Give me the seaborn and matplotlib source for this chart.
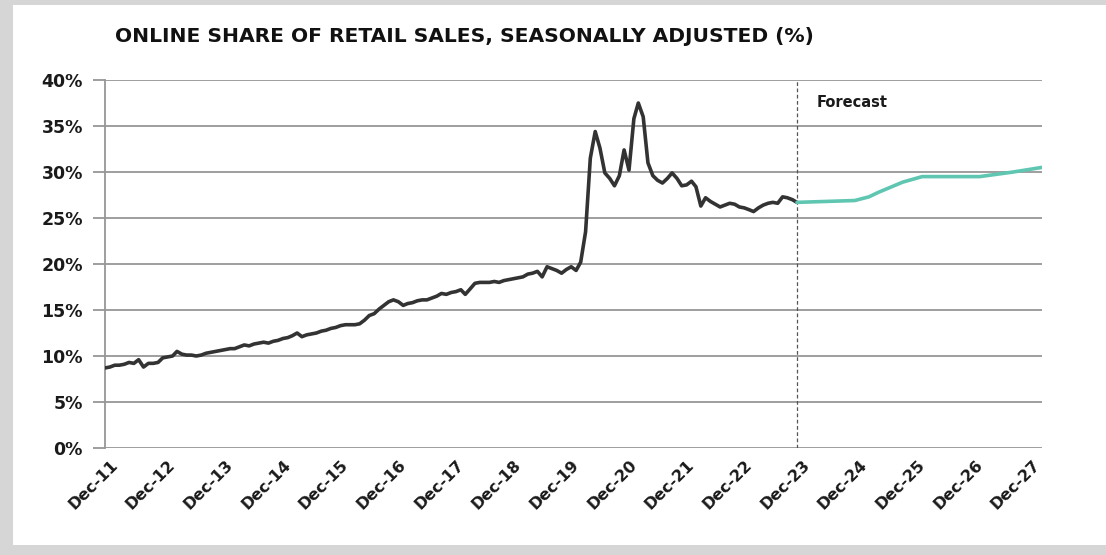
import matplotlib

matplotlib.use("Agg")
import matplotlib.dates as mdates
import matplotlib.pyplot as plt
import matplotlib.transforms as mtransforms
import pandas as pd
import seaborn as sns
from matplotlib.patches import Rectangle

# monthly online share (%), Dec-11 .. Dec-23
HIST_START = "2011-12-01"
HIST_VALUES = [
    8.7, 8.8, 9.0, 9.0, 9.1, 9.3, 9.2, 9.6, 8.8, 9.2, 9.2, 9.3,
    9.8, 9.9, 10.0, 10.5, 10.2, 10.1, 10.1, 10.0, 10.1, 10.3, 10.4, 10.5,
    10.6, 10.7, 10.8, 10.8, 11.0, 11.2, 11.1, 11.3, 11.4, 11.5, 11.4, 11.6,
    11.7, 11.9, 12.0, 12.2, 12.5, 12.1, 12.3, 12.4, 12.5, 12.7, 12.8, 13.0,
    13.1, 13.3, 13.4, 13.4, 13.4, 13.5, 13.9, 14.4, 14.6, 15.1, 15.5, 15.9,
    16.1, 15.9, 15.5, 15.7, 15.8, 16.0, 16.1, 16.1, 16.3, 16.5, 16.8, 16.7,
    16.9, 17.0, 17.2, 16.7, 17.3, 17.9, 18.0, 18.0, 18.0, 18.1, 18.0, 18.2,
    18.3, 18.4, 18.5, 18.6, 18.9, 19.0, 19.2, 18.6, 19.7, 19.5, 19.3, 19.0,
    19.4, 19.7, 19.3, 20.2, 23.5, 31.5, 34.4, 32.6, 29.9, 29.3, 28.5, 29.6,
    32.4, 30.2, 35.8, 37.5, 36.0, 31.0, 29.6, 29.1, 28.8, 29.3, 29.9, 29.3,
    28.5, 28.6, 29.0, 28.4, 26.3, 27.2, 26.8, 26.5, 26.2, 26.4, 26.6, 26.5,
    26.2, 26.1, 25.9, 25.7, 26.1, 26.4, 26.6, 26.7, 26.6, 27.3, 27.2, 27.0,
    26.7,
]

# forecast path
FC_DATES = ["2023-12-01", "2024-06-01", "2024-12-01", "2025-03-01", "2025-05-01",
            "2025-10-01", "2026-02-01", "2027-02-01", "2027-09-01", "2028-03-01"]
FC_VALUES = [26.7, 26.8, 26.9, 27.3, 27.8, 28.9, 29.5, 29.5, 30.0, 30.5]

Y_TICKS = [0, 5, 10, 15, 20, 25, 30, 35, 40]
X_TICK_YEARS = list(range(2011, 2028))

TITLE = "ONLINE SHARE OF RETAIL SALES, SEASONALLY ADJUSTED (%)"
HIST_COLOR = "#333333"
FC_COLOR = "#5fc6b1"
GRID_COLOR = "#969696"

sns.set_theme(style="white")
plt.rcParams["font.family"] = ["DejaVu Sans"]

hist = pd.DataFrame({
    "date": pd.date_range(HIST_START, periods=len(HIST_VALUES), freq="MS"),
    "share": HIST_VALUES,
})
fc = pd.DataFrame({"date": pd.to_datetime(FC_DATES), "share": FC_VALUES})

fig = plt.figure(figsize=(11.06, 5.55), dpi=100)
fig.patch.set_facecolor("#d6d6d6")
fig.patches.append(Rectangle((13 / 1106, 10 / 555), 1 - 13 / 1106, 1 - 15 / 555,
                             transform=fig.transFigure, facecolor="white",
                             edgecolor="none", zorder=-10))

ax = fig.add_axes([105 / 1106, 1 - 448 / 555, 937 / 1106, 368 / 555])
ax.set_facecolor("none")

sns.lineplot(data=hist, x="date", y="share", ax=ax, color=HIST_COLOR, linewidth=2.6, zorder=3)
sns.lineplot(data=fc, x="date", y="share", ax=ax, color=FC_COLOR, linewidth=2.6, zorder=3)

ax.set_xlim(pd.Timestamp("2011-12-01"), pd.Timestamp("2028-03-01"))
ax.set_ylim(0, 40)
ax.set_yticks(Y_TICKS)
ax.set_yticklabels([f"{v}%" for v in Y_TICKS])
ax.set_xticks([pd.Timestamp(f"{y}-12-01") for y in X_TICK_YEARS])
ax.xaxis.set_major_formatter(mdates.DateFormatter("%b-%y"))
ax.set_xlabel("")
ax.set_ylabel("")

ax.yaxis.grid(True, color=GRID_COLOR, linewidth=1.3)
ax.set_axisbelow(True)
for side in ["top", "right", "bottom"]:
    ax.spines[side].set_visible(False)
ax.spines["left"].set_color(GRID_COLOR)
ax.spines["left"].set_linewidth(1.3)

ax.tick_params(axis="y", left=True, length=9, width=1.3, color=GRID_COLOR,
               labelsize=12.5, pad=7, labelcolor="#1a1a1a")
ax.tick_params(axis="x", bottom=False, labelsize=11.5, pad=1, labelcolor="#1a1a1a")
for lbl in ax.get_yticklabels():
    lbl.set_fontweight("bold")
shift = mtransforms.ScaledTranslation(5 / 100, 0, fig.dpi_scale_trans)
for lbl in ax.get_xticklabels():
    lbl.set_fontweight("bold")
    lbl.set_rotation(45)
    lbl.set_ha("right")
    lbl.set_rotation_mode("anchor")
    lbl.set_transform(lbl.get_transform() + shift)

ax.axvline(pd.Timestamp("2023-12-01"), color="#555555", linewidth=0.9,
           linestyle=(0, (3, 2)), zorder=2)
ax.text(pd.Timestamp("2024-04-01"), 37.6, "Forecast", fontsize=10.5,
        fontweight="bold", color="#1a1a1a", va="center", ha="left")

fig.text(115 / 1106, 1 - 37 / 555, TITLE, fontsize=14.6, fontweight="bold",
         color="#111111", va="center", ha="left")

fig.savefig("out.png", dpi=100)
